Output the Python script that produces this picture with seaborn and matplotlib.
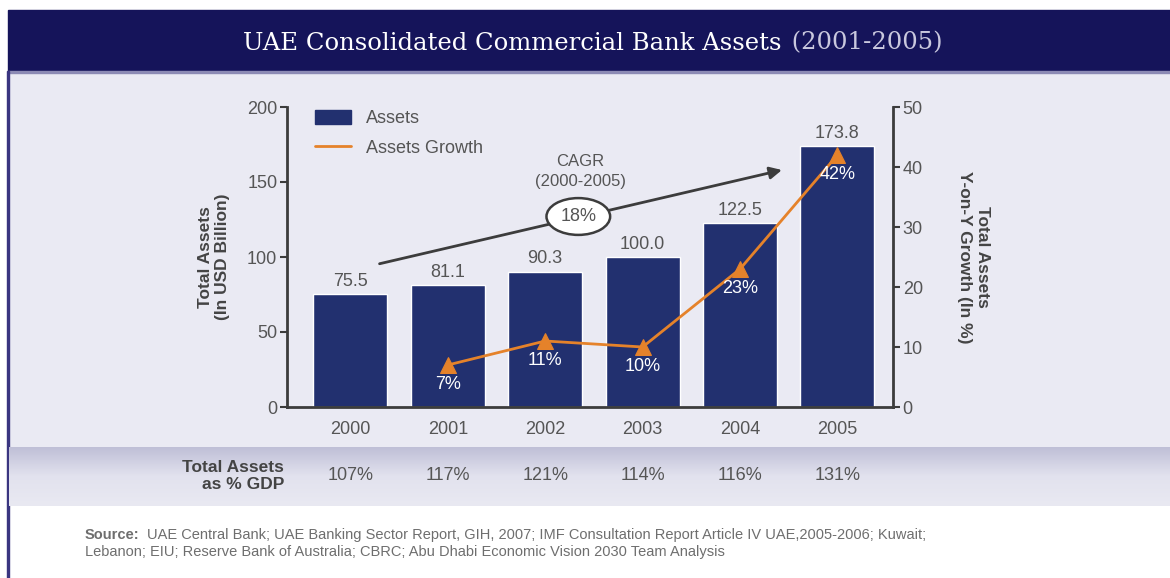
import numpy as np
import pandas as pd
import matplotlib
matplotlib.use("Agg")
import matplotlib.pyplot as plt
import matplotlib.transforms as mtransforms
from matplotlib.patches import Rectangle
from matplotlib.lines import Line2D
from matplotlib.colors import LinearSegmentedColormap
import seaborn as sns

# ---- data -------------------------------------------------------------
years = ["2000", "2001", "2002", "2003", "2004", "2005"]
assets = [75.5, 81.1, 90.3, 100.0, 122.5, 173.8]          # USD billion
growth_years = ["2001", "2002", "2003", "2004", "2005"]
growth = [7, 11, 10, 23, 42]                               # y-on-y, %
gdp_share = [107, 117, 121, 114, 116, 131]                 # assets as % of GDP
cagr = 18                                                  # 2000-2005, %

# ---- style ------------------------------------------------------------
NAVY = "#22306f"
BAND = "#15145a"
ORANGE = "#e5822a"
BG = "#eaeaf3"
AXIS = "#3c3c3c"
TXT = "#555555"

sns.set_theme(style="white")
plt.rcParams["font.family"] = ["Liberation Sans Narrow", "Liberation Sans", "DejaVu Sans"]

fig = plt.figure(figsize=(11.7, 5.78), dpi=100)
fig.patch.set_facecolor("white")

W, H = 1170.0, 578.0
def fx(px):
    return px / W
def fy(py):
    return 1 - py / H

# page decoration: title band, panel, left rule
fig.add_artist(Rectangle((fx(8), fy(447)), 1 - fx(8), fy(72) - fy(447),
                         transform=fig.transFigure, color=BG, zorder=-10))
fig.add_artist(Rectangle((fx(8), fy(71)), 1 - fx(8), fy(10) - fy(71),
                         transform=fig.transFigure, color=BAND, zorder=-9))
fig.add_artist(Rectangle((fx(8), fy(73)), 1 - fx(8), fy(71) - fy(73),
                         transform=fig.transFigure, color="#8c8ab4", zorder=-9))
fig.add_artist(Rectangle((fx(7), 0), fx(2), fy(71),
                         transform=fig.transFigure, color="#3a3580", zorder=-8))

# gradient strip behind the GDP row
gax = fig.add_axes([fx(9), fy(506), 1 - fx(9), fy(447) - fy(506)], zorder=-5)
grad = np.linspace(0, 1, 100).reshape(-1, 1)
gcmap = LinearSegmentedColormap.from_list("strip", ["#bebed6", "#e2e2ee", "#e9e9f2"])
gax.imshow(grad, aspect="auto", cmap=gcmap, extent=(0, 1, 0, 1))
gax.axis("off")

# title
t1 = fig.text(fx(243), fy(43), "UAE Consolidated Commercial Bank Assets",
              color="white", fontsize=17.5, family="DejaVu Serif",
              ha="left", va="center")

# ---- main axes ----------------------------------------------------------
ax = fig.add_axes([fx(287), fy(407), fx(893) - fx(287), fy(107) - fy(407)])
ax.patch.set_alpha(0)
ax.annotate(" (2001-2005)", xy=(1, 0.5), xycoords=t1, xytext=(2, 0),
            textcoords="offset points", ha="left", va="center",
            color="#c9c8de", fontsize=17.5, family="DejaVu Serif",
            annotation_clip=False)

df = pd.DataFrame({"year": years, "assets": assets})
sns.barplot(data=df, x="year", y="assets", color=NAVY, saturation=1,
            width=0.76, ax=ax)
for c in ax.containers:
    ax.bar_label(c, labels=[f"{v:.1f}" for v in assets], padding=3,
                 fontsize=13, color=TXT)

ax.set_ylim(0, 200)
ax.set_yticks([0, 50, 100, 150, 200])
ax.set_xlabel("")
ax.set_ylabel("Total Assets\n(In USD Billion)", fontsize=12.5, fontweight="bold",
              color="#444444", labelpad=12)
for s in ["top", "right"]:
    ax.spines[s].set_visible(False)
for s in ["left", "bottom"]:
    ax.spines[s].set_color(AXIS)
    ax.spines[s].set_linewidth(2)
ax.tick_params(axis="y", left=True, direction="out", length=5, width=1.5,
               color=AXIS, labelcolor=TXT, labelsize=13, pad=2)
ax.tick_params(axis="x", bottom=False, labelcolor=TXT, labelsize=13, pad=4)

# growth line on the secondary axis
ax2 = ax.twinx()
ax2.patch.set_alpha(0)
gdf = pd.DataFrame({"pos": [years.index(y) for y in growth_years], "growth": growth})
sns.lineplot(data=gdf, x="pos", y="growth", ax=ax2, color=ORANGE, lw=2,
             marker="^", markersize=11, markeredgecolor=ORANGE)
for p, g in zip(gdf["pos"], gdf["growth"]):
    ax2.annotate(f"{g}%", xy=(p, g), xytext=(0, -14), textcoords="offset points",
                 ha="center", va="center", color="white", fontsize=13)
ax2.set_ylim(0, 50)
ax2.set_yticks([0, 10, 20, 30, 40, 50])
ax2.set_xlabel("")
ax2.set_ylabel("Total Assets\nY-on-Y Growth (In %)", fontsize=12.5,
               fontweight="bold", color="#444444", rotation=270, labelpad=48)
for s in ["top", "left", "bottom"]:
    ax2.spines[s].set_visible(False)
ax2.spines["right"].set_color(AXIS)
ax2.spines["right"].set_linewidth(2)
ax2.tick_params(axis="y", right=True, direction="out", length=5, width=1.5,
                color=AXIS, labelcolor=TXT, labelsize=13, pad=2)
ax.set_xlim(-0.65, 5.57)

# CAGR arrow
ax.annotate("", xy=(4.43, 158), xytext=(0.3, 95.5),
            arrowprops=dict(arrowstyle="-|>", color=AXIS, lw=2,
                            mutation_scale=18, shrinkA=0, shrinkB=0))
ax.text(2.34, 127, f"{cagr}%", ha="center", va="center", fontsize=13,
        color=TXT, bbox=dict(boxstyle="ellipse,pad=0.25", fc="white",
                             ec=AXIS, lw=1.8))
ax.text(2.36, 157, "CAGR\n(2000-2005)", ha="center", va="center",
        fontsize=12, color=TXT, linespacing=1.35)

# legend
handles = [Rectangle((0, 0), 1, 1, color=NAVY),
           Line2D([0], [0], color=ORANGE, lw=2)]
ax.legend(handles, ["Assets", "Assets Growth"], loc="upper left",
          bbox_to_anchor=(0.02, 1.045), frameon=False, fontsize=13,
          handlelength=2.0, handleheight=0.8, labelspacing=0.7,
          labelcolor=TXT)

# GDP share row
row = mtransforms.blended_transform_factory(ax.transData, fig.transFigure)
for i, v in enumerate(gdp_share):
    ax.text(i, fy(476), f"{v}%", transform=row, ha="center", va="center",
            fontsize=13, color=TXT, clip_on=False)
fig.text(fx(284), fy(476), "Total Assets\nas % GDP", ha="right", va="center",
         fontsize=12.5, fontweight="bold", color="#444444", linespacing=1.2)

# source note
src = fig.text(fx(85), fy(535), "Source:", ha="left", va="center",
               fontsize=10.5, fontweight="bold", color="#6e6e6e")
ax.annotate("UAE Central Bank; UAE Banking Sector Report, GIH, 2007; IMF Consultation "
            "Report Article IV UAE,2005-2006; Kuwait;",
            xy=(1, 0.5), xycoords=src, xytext=(5, 0), textcoords="offset points",
            ha="left", va="center", fontsize=10.5, color="#6e6e6e",
            annotation_clip=False)
fig.text(fx(85), fy(552), "Lebanon; EIU; Reserve Bank of Australia; CBRC; "
         "Abu Dhabi Economic Vision 2030 Team Analysis",
         ha="left", va="center", fontsize=10.5, color="#6e6e6e")

fig.savefig("out.png", dpi=100)
